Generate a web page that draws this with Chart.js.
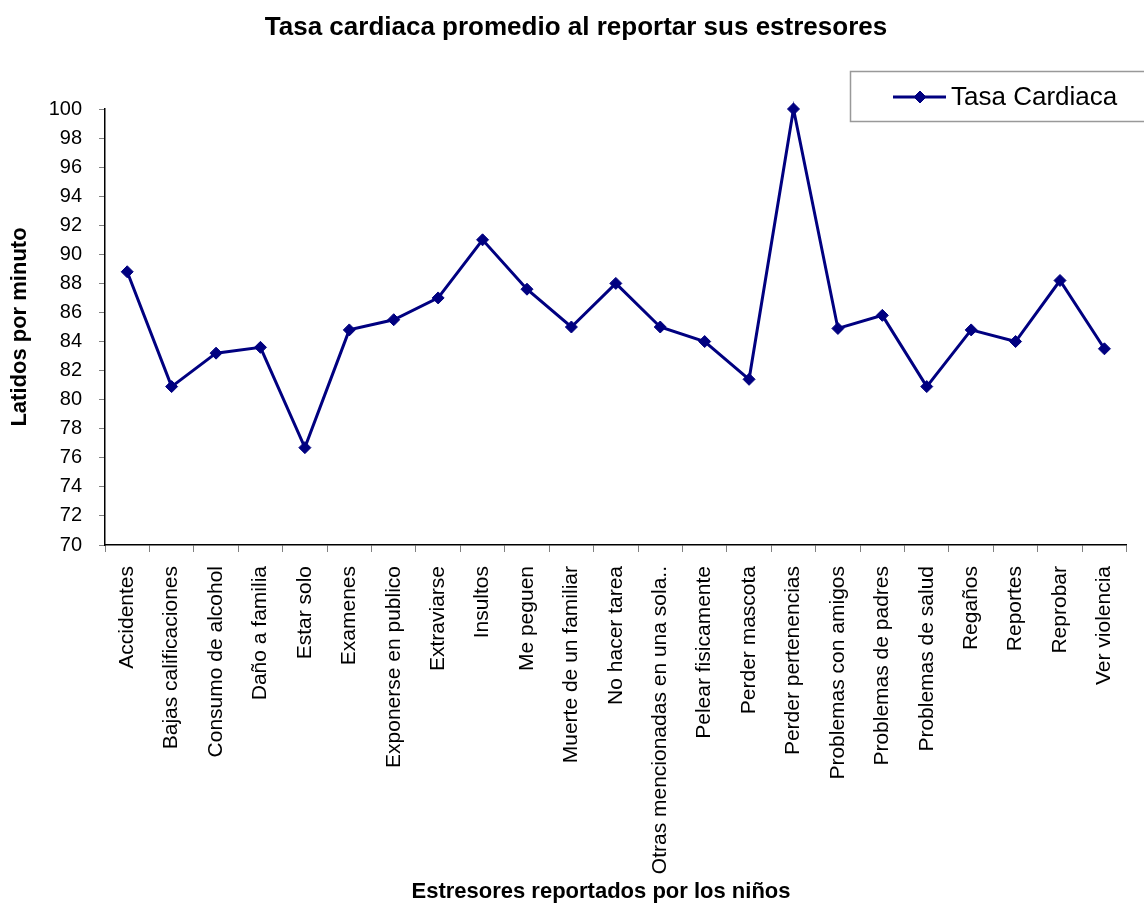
<!DOCTYPE html>
<html lang="es">
<head>
    <meta charset="UTF-8"/>
    <title>Tasa cardiaca promedio</title>
    <style>
        html, body {
            margin: 0;
            padding: 0;
            background: #fff;
            overflow: hidden;
        }

        canvas {
            display: block;
        }
    </style>
    <script src="https://cdn.jsdelivr.net/npm/chart.js@4/dist/chart.umd.min.js"></script>
</head>
<body>
<canvas id="chart" width="1144" height="903"></canvas>

<script>
    // Stressors reported by the children and the mean heart rate for each
    const estresores = [
        'Accidentes', 'Bajas calificaciones', 'Consumo de alcohol', 'Daño a familia',
        'Estar solo', 'Examenes', 'Exponerse en publico', 'Extraviarse', 'Insultos',
        'Me peguen', 'Muerte de un familiar', 'No hacer tarea',
        'Otras mencionadas en una sola..', 'Pelear fisicamente', 'Perder mascota',
        'Perder pertenencias', 'Problemas con amigos', 'Problemas de padres',
        'Problemas de salud', 'Regaños', 'Reportes', 'Reprobar', 'Ver violencia'
    ];
    const tasaCardiaca = [
        88.8, 80.9, 83.2, 83.6, 76.7, 84.8, 85.5, 87.0, 91.0, 87.6, 85.0, 88.0,
        85.0, 84.0, 81.4, 100.0, 84.9, 85.8, 80.9, 84.8, 84.0, 88.2, 83.5
    ];
    const yTicks = [70, 100, 2]; // min, max, step

    const TITLE = 'Tasa cardiaca promedio al reportar sus estresores';
    const X_TITLE = 'Estresores reportados por los niños';
    const Y_TITLE = 'Latidos por minuto';

    const NAVY = '#000080';
    const FONT = "'Liberation Sans', Arial, sans-serif";

    // Chart title, x-axis title and the boxed legend
    const decorations = {
        id: 'decorations',
        afterDraw(chart) {
            const ctx = chart.ctx;
            const ds = chart.data.datasets[0];
            ctx.save();
            ctx.fillStyle = '#000';
            ctx.textAlign = 'center';
            ctx.textBaseline = 'middle';
            ctx.font = 'bold 26px ' + FONT;
            ctx.fillText(TITLE, 576, 28);
            ctx.font = 'bold 22px ' + FONT;
            ctx.fillText(X_TITLE, 601, 892);

            ctx.strokeStyle = '#999';
            ctx.lineWidth = 1.5;
            ctx.strokeRect(850.5, 71.5, 310, 50);

            const y = 97;
            ctx.strokeStyle = ds.borderColor;
            ctx.lineWidth = ds.borderWidth;
            ctx.beginPath();
            ctx.moveTo(893, y);
            ctx.lineTo(946, y);
            ctx.stroke();
            ctx.lineWidth = ds.pointBorderWidth;
            Chart.helpers.drawPoint(ctx, {
                pointStyle: ds.pointStyle,
                radius: ds.pointRadius,
                borderWidth: ds.pointBorderWidth
            }, 920, y);
            ctx.fillStyle = ds.pointBackgroundColor;
            ctx.fill();

            ctx.fillStyle = '#000';
            ctx.font = '26px ' + FONT;
            ctx.textAlign = 'left';
            ctx.fillText(ds.label, 951, y + 1);
            ctx.restore();
        }
    };

    new Chart(document.getElementById('chart'), {
        type: 'line',
        data: {
            labels: estresores,
            datasets: [{
                label: 'Tasa Cardiaca',
                data: tasaCardiaca,
                borderColor: NAVY,
                borderWidth: 3,
                pointStyle: 'rectRot',
                pointRadius: 6,
                pointBorderWidth: 1,
                pointBackgroundColor: NAVY,
                pointBorderColor: NAVY,
                tension: 0,
                clip: false
            }]
        },
        options: {
            responsive: false,
            animation: false,
            layout: {padding: {left: 0, right: 17, top: 109, bottom: 0}},
            plugins: {
                legend: {display: false},
                tooltip: {enabled: false},
                title: {display: false}
            },
            scales: {
                x: {
                    offset: true,
                    afterFit(scale) {
                        scale.height = 358;
                    },
                    grid: {
                        offset: true,
                        drawOnChartArea: false,
                        tickLength: 7,
                        color: '#808080'
                    },
                    border: {color: '#000', width: 1.5},
                    ticks: {
                        minRotation: 90,
                        maxRotation: 90,
                        autoSkip: false,
                        padding: 14,
                        color: '#000',
                        font: {family: FONT, size: 21}
                    }
                },
                y: {
                    min: yTicks[0],
                    max: yTicks[1],
                    afterFit(scale) {
                        scale.width = 105;
                    },
                    grid: {
                        drawOnChartArea: false,
                        tickLength: 6,
                        color: '#808080'
                    },
                    border: {color: '#000', width: 1.5},
                    ticks: {
                        stepSize: yTicks[2],
                        padding: 17,
                        color: '#000',
                        font: {family: FONT, size: 20}
                    },
                    title: {
                        display: true,
                        text: Y_TITLE,
                        color: '#000',
                        font: {family: FONT, size: 22, weight: 'bold', lineHeight: 1},
                        padding: {top: 9, bottom: 0}
                    }
                }
            }
        },
        plugins: [decorations]
    });
</script>
</body>
</html>
